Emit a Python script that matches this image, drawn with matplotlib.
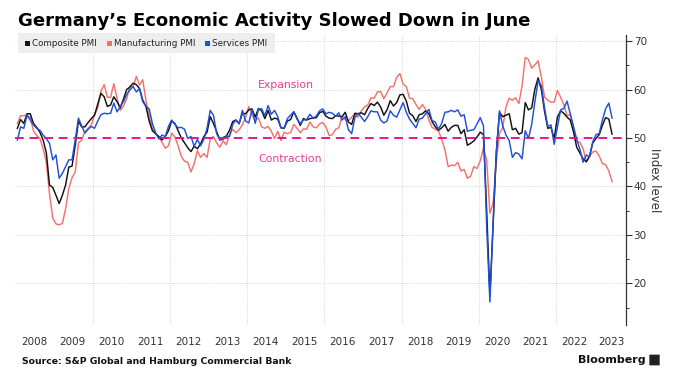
import matplotlib
matplotlib.use("Agg")
import matplotlib.pyplot as plt
import numpy as np
from matplotlib.patches import Rectangle, FancyBboxPatch

# Monthly values, Jan 2008 .. Jun 2023
composite = [
    52.0, 53.8, 53.0, 55.0, 55.0, 53.0, 52.2, 51.2, 49.6, 47.0, 40.3, 39.8,
    38.2, 36.5, 38.2, 40.3, 44.0, 44.2, 48.5, 53.5, 52.3, 52.3, 53.2, 54.0,
    54.7, 57.0, 59.2, 58.5, 56.5, 56.8, 58.5, 57.5, 56.2, 58.0, 60.0, 60.5,
    61.3, 61.0, 60.2, 57.8, 56.5, 53.5, 51.5, 50.9, 50.3, 49.6, 50.3, 51.5,
    53.5, 53.0, 51.5, 50.0, 49.0, 48.0, 47.2, 48.3, 47.8, 48.8, 50.3, 51.2,
    54.4, 53.0, 51.3, 49.6, 50.1, 50.4, 51.6, 53.4, 53.7, 53.0, 55.1, 55.0,
    55.8, 56.0, 54.3, 56.1, 55.6, 54.0, 55.7, 53.7, 54.1, 53.9, 52.1, 52.0,
    53.5, 53.8, 55.4, 54.1, 52.6, 54.0, 53.7, 54.0, 54.1, 54.2, 55.2, 55.5,
    54.5, 54.1, 54.0, 54.6, 54.5, 54.4, 55.3, 53.3, 52.8, 55.1, 55.0, 55.2,
    54.8, 56.1, 57.1, 56.7, 57.4, 56.4, 54.7, 55.8, 57.7, 56.6, 57.3, 58.9,
    59.0, 57.6, 55.1, 54.6, 53.4, 54.8, 55.0, 55.6, 55.0, 53.4, 52.3, 51.6,
    52.1, 52.8, 51.4, 52.2, 52.6, 52.6, 50.9, 51.7, 48.5, 48.9, 49.4, 50.2,
    51.2, 50.7, 35.0, 17.4, 32.3, 47.0, 55.3, 54.4, 54.7, 55.0, 51.7, 52.0,
    50.8, 51.1, 57.3, 55.8, 56.2, 60.1, 62.4, 60.0, 55.5, 52.0, 52.2, 49.9,
    54.3, 55.6, 55.1, 54.3, 53.7, 51.3, 48.1, 46.9, 45.7, 45.1, 46.3, 49.0,
    49.9, 50.7, 52.6, 54.2, 53.9, 50.8,
]
manufacturing = [
    53.0, 54.6, 54.6, 54.7, 54.2, 51.5, 50.5, 49.9, 47.8, 45.0, 38.5, 33.5,
    32.3, 32.1, 32.4, 35.4, 39.6, 41.8, 43.0, 49.0, 49.6, 51.3, 52.0, 52.7,
    54.8, 56.2, 59.7, 61.0, 58.4, 58.4, 61.2, 58.2, 55.7, 56.6, 58.1, 60.7,
    60.5, 62.7, 60.9, 62.0, 57.7, 54.6, 52.0, 50.9, 50.3, 49.1, 47.9, 48.4,
    51.0, 50.2, 48.4, 46.2, 45.2, 45.0, 43.0, 44.7, 47.4, 46.0, 46.8, 46.0,
    49.8, 50.3, 49.0, 48.1, 49.4, 48.6, 50.7, 51.8, 51.1, 51.7, 52.7, 54.3,
    56.5, 54.8, 53.7, 54.1, 52.3, 52.0, 52.4, 51.4, 49.9, 51.4, 49.5, 51.2,
    50.9, 51.1, 52.8, 52.0, 51.1, 51.9, 51.8, 53.3, 52.3, 52.1, 52.9, 53.2,
    52.3, 50.5, 50.7, 51.8, 52.1, 54.5, 53.8, 53.6, 54.3, 55.0, 54.3, 55.6,
    56.4, 56.8, 58.3, 58.2, 59.5, 59.6, 58.1, 59.3, 60.6, 60.6, 62.5, 63.3,
    61.1, 60.6, 58.2, 58.1, 56.9, 55.9, 56.9, 55.9, 53.7, 52.2, 51.8, 51.5,
    49.7, 47.6, 44.1, 44.4, 44.3, 45.0, 43.2, 43.5, 41.7, 42.1, 44.1, 43.7,
    45.3, 48.0, 45.4, 34.5, 36.6, 45.2, 51.0, 52.2, 56.4, 58.2, 57.8, 58.3,
    57.1, 60.7, 66.6, 66.2, 64.4, 65.1, 65.9, 62.6, 58.4, 57.8, 57.4, 57.4,
    59.8, 58.4, 56.9, 54.6, 54.8, 52.0, 49.3, 49.1, 47.8, 45.1, 46.2, 47.1,
    47.3, 46.3, 44.7, 44.5, 43.2, 41.0,
]
services = [
    49.6, 52.3, 52.0, 54.7, 53.7, 52.7, 52.0, 51.6, 50.6, 49.9, 48.9, 45.5,
    46.5, 41.7, 42.7, 44.1, 45.5, 45.5, 49.6, 54.1, 52.5, 51.0, 51.8, 52.4,
    52.0, 53.5, 54.8, 55.1, 55.0, 55.1, 57.2, 55.4, 56.5, 57.5, 59.0, 59.9,
    60.6, 59.5, 60.2, 57.5, 56.5, 56.0, 53.0, 51.1, 49.8, 50.6, 50.3, 52.4,
    53.7, 52.8, 52.1, 52.2, 51.8, 49.9, 50.3, 48.3, 49.7, 48.4, 49.7, 52.0,
    55.7, 54.7, 50.9, 49.6, 49.7, 50.4, 50.3, 52.8, 53.7, 52.9, 55.7, 53.5,
    53.1, 55.9, 53.0, 56.0, 56.0, 54.6, 56.7, 54.9, 55.7, 54.4, 52.1, 52.1,
    54.0, 54.7, 55.4, 53.9, 53.0, 53.7, 53.8, 54.9, 54.1, 54.5, 55.6, 56.0,
    55.0, 55.3, 55.1, 54.5, 55.2, 53.7, 54.4, 51.7, 50.9, 54.2, 55.1, 54.3,
    53.4, 54.4, 55.6, 55.4, 55.4, 53.7, 53.1, 53.5, 55.6, 54.7, 54.3, 55.8,
    57.3, 55.3, 53.9, 53.0, 52.1, 53.9, 54.1, 55.0, 55.9, 53.6, 53.3, 51.8,
    53.0, 55.3, 55.4, 55.7, 55.4, 55.8, 54.5, 54.8, 51.4, 51.6, 51.7, 52.9,
    54.2, 52.5, 31.7, 16.2, 32.6, 47.3, 55.6, 52.5, 50.6, 49.5, 46.0, 47.0,
    46.7, 45.7, 51.5, 49.9, 52.8, 57.5, 61.8, 60.8, 56.2, 52.4, 52.7, 48.7,
    52.2, 55.8, 56.1, 57.6, 55.0, 52.4, 49.7, 47.7, 45.0, 46.5, 46.1, 49.2,
    50.7, 50.9, 53.7, 56.0, 57.2, 54.1,
]
start_year = 2008
years = list(range(2008, 2024))
yticks = [20, 30, 40, 50, 60, 70]
threshold = 50

W, H = 681, 382
fig = plt.figure(figsize=(W / 100, H / 100), dpi=100)
fig.patch.set_facecolor("white")

def fx(px):
    return px / W

def fy(py):
    return 1 - py / H

ax_l, ax_r, ax_t, ax_b = 15, 626, 35, 325
ax = fig.add_axes([fx(ax_l), fy(ax_b), fx(ax_r - ax_l), fy(ax_t) - fy(ax_b)])

n = len(composite)
t = start_year + (np.arange(n) + 0.5) / 12.0

c_comp = "#111111"
c_man = "#f5716c"
c_serv = "#2150d8"
pink = "#e3168c"

ax.plot(t, manufacturing, color=c_man, lw=1.05, zorder=3)
ax.plot(t, composite, color=c_comp, lw=1.05, zorder=4)
ax.plot(t, services, color=c_serv, lw=1.05, zorder=5)

ax.axhline(threshold, color=pink, lw=1.4, dashes=(4.5, 3), zorder=6)

ax.set_xlim(2007.98, 2023.82)
ax.set_ylim(11.44, 71.24)

# grid
for yv in yticks:
    if yv != threshold:
        ax.axhline(yv, color="#cccccc", lw=0.6, ls=(0, (1, 1.5)), zorder=1)
for yr in range(2010, 2024, 2):
    ax.axvline(yr, color="#cccccc", lw=0.6, ls=(0, (1, 1.5)), zorder=1)

for s in ["left", "top", "bottom"]:
    ax.spines[s].set_visible(False)
ax.spines["right"].set_color("#333333")
ax.spines["right"].set_linewidth(0.9)

ax.yaxis.tick_right()
ax.set_yticks(yticks)
ax.set_yticks([15, 25, 35, 45, 55, 65], minor=True)
ax.tick_params(axis="y", which="major", length=4, width=0.8, color="#333333",
               labelsize=7.5, labelcolor="#333333", pad=1.5)
ax.tick_params(axis="y", which="minor", length=2, width=0.7, color="#333333")
ax.set_xticks([])

ax.yaxis.set_label_position("right")
ax.set_ylabel("Index level", rotation=-90, fontsize=8.5, color="#333333", labelpad=10)

# year labels
for yr in years:
    off = 0.48 if yr < 2023 else 0.43
    ax.text(yr + off, -0.06, str(yr), transform=ax.get_xaxis_transform(),
            ha="center", va="center", fontsize=7.5, color="#333333")

# annotations
ax.text(2015.0, 61.0, "Expansion", color="#e8399b", fontsize=7.8, ha="center", va="center")
ax.text(2015.1, 45.7, "Contraction", color="#e8399b", fontsize=7.8, ha="center", va="center")

# title
fig.text(fx(18), fy(21), "Germany\u2019s Economic Activity Slowed Down in June",
         fontsize=13, fontweight="bold", ha="left", va="center", color="#000000")

# legend
fig.patches.append(Rectangle((fx(18), fy(53)), fx(257), fy(33) - fy(53),
                             transform=fig.transFigure, facecolor="#eeeeee",
                             edgecolor="none", zorder=10))
items = [(25, "Composite PMI", c_comp), (107, "Manufacturing PMI", c_man),
         (205, "Services PMI", c_serv)]
for px, label, col in items:
    fig.patches.append(Rectangle((fx(px), fy(46)), fx(5), fy(41) - fy(46),
                                 transform=fig.transFigure, facecolor=col,
                                 edgecolor="none", zorder=11))
    fig.text(fx(px + 7.5), fy(43.5), label, fontsize=6.3, color="#222222",
             ha="left", va="center", zorder=12)

# source
fig.text(fx(22), fy(361), "Source: S&P Global and Hamburg Commercial Bank",
         fontsize=6.65, fontweight="bold", ha="left", va="center", color="#111111")

# Bloomberg
fig.text(fx(646), fy(360), "Bloomberg", fontsize=8, fontweight="bold",
         ha="right", va="center", color="#111111")
fig.patches.append(FancyBboxPatch((fx(650), fy(365)), fx(9), fy(355) - fy(365),
                                  boxstyle="round,pad=0.001", transform=fig.transFigure,
                                  facecolor="#222222", edgecolor="none"))

fig.savefig("out.png", dpi=100)
